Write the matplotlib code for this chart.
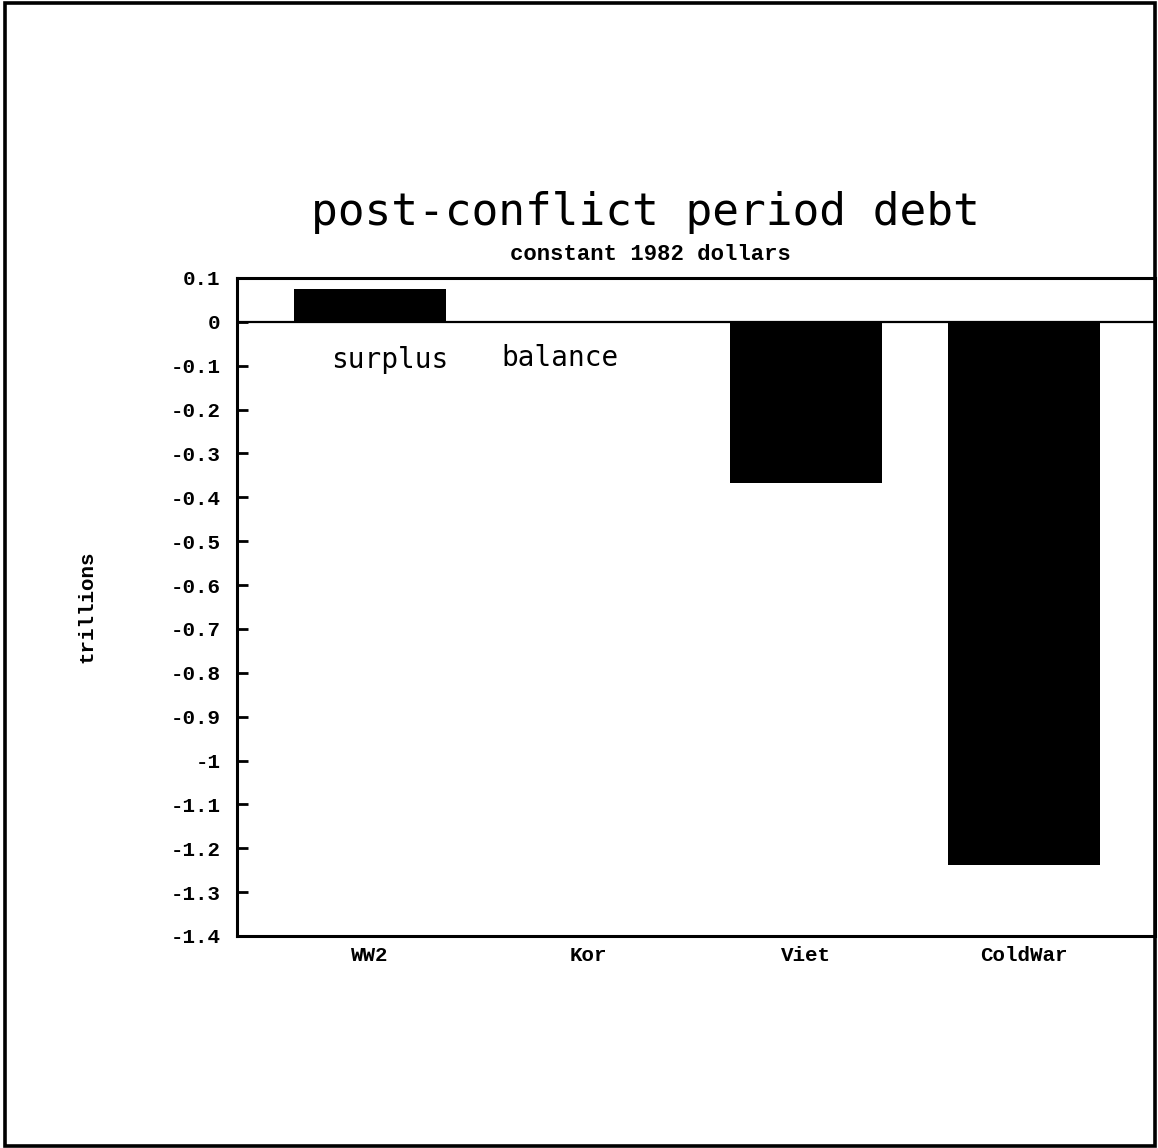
import matplotlib
matplotlib.use("Agg")
import matplotlib.pyplot as plt
from matplotlib.patches import Rectangle
from matplotlib.font_manager import FontProperties

# Post-conflict debt by period, trillions of constant 1982 dollars
categories = ["WW2", "Kor", "Viet", "ColdWar"]
debt = [0.076, 0.0, -0.368, -1.238]
y_ticks = [0.1, 0, -0.1, -0.2, -0.3, -0.4, -0.5, -0.6, -0.7, -0.8, -0.9,
           -1.0, -1.1, -1.2, -1.3, -1.4]
y_tick_labels = ["0.1", "0", "-0.1", "-0.2", "-0.3", "-0.4", "-0.5", "-0.6",
                 "-0.7", "-0.8", "-0.9", "-1", "-1.1", "-1.2", "-1.3", "-1.4"]
notes = [("surplus", 0.09, -0.087), ("balance", 0.87, -0.083)]

W, H = 1158, 1148
fig = plt.figure(figsize=(W / 100, H / 100), dpi=100)
fig.patch.set_facecolor("white")

# page frame
fig.add_artist(Rectangle((5 / W, 1 - 1146 / H), (1155 - 5) / W, (1146 - 3) / H,
                         transform=fig.transFigure, fill=False,
                         edgecolor="black", linewidth=2.6))

ax = fig.add_axes([237 / W, 1 - 936 / H, (1155 - 237) / W, (936 - 278) / H])
x = list(range(len(categories)))
ax.bar(x, debt, width=0.70, color="black", edgecolor="black", linewidth=0)
ax.axhline(0, color="black", linewidth=1.6)

ax.set_xlim(-0.61, 3.60)
ax.set_ylim(-1.4, 0.1)
ax.set_yticks(y_ticks)
ax.set_yticklabels(y_tick_labels)
ax.set_xticks(x)
ax.set_xticklabels(categories)

tick_font = FontProperties(family="Liberation Mono", weight="bold", size=15)
for lab in ax.get_yticklabels() + ax.get_xticklabels():
    lab.set_fontproperties(tick_font)

ax.tick_params(axis="y", direction="in", length=8, width=2, pad=12)
ax.tick_params(axis="x", length=0, pad=7)
for side in ["left", "bottom", "top", "right"]:
    ax.spines[side].set_linewidth(2.2)

ax.set_ylabel("trillions", fontsize=15, fontfamily="Liberation Mono",
              fontweight="bold", labelpad=53)

for text, tx, ty in notes:
    ax.text(tx, ty, text, ha="center", va="center", fontsize=20,
            family="DejaVu Sans Mono")

fig.text(645 / W, 1 - 212 / H, "post-conflict period debt", ha="center",
         va="center", fontsize=32, family="DejaVu Sans Mono")
fig.text(650 / W, 1 - 254 / H, "constant 1982 dollars", ha="center",
         va="center", fontsize=16, family="Liberation Mono", weight="bold")

fig.savefig("out.png", dpi=100, facecolor="white")
